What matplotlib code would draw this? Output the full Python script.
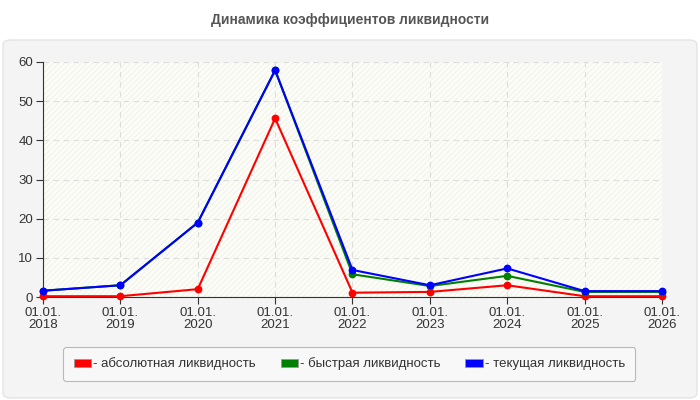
import matplotlib.pyplot as plt
from matplotlib.patches import FancyBboxPatch, Patch, Rectangle

plt.rcParams['font.family'] = ['Liberation Sans', 'DejaVu Sans']

dates = ['01.01.\n2018', '01.01.\n2019', '01.01.\n2020', '01.01.\n2021', '01.01.\n2022',
         '01.01.\n2023', '01.01.\n2024', '01.01.\n2025', '01.01.\n2026']
absolute = [0.2, 0.2, 2.0, 45.6, 1.1, 1.3, 3.0, 0.2, 0.2]
quick = [1.6, 3.0, 19.0, 57.9, 5.8, 2.8, 5.4, 1.3, 1.3]
current = [1.6, 3.0, 19.0, 57.9, 6.9, 3.0, 7.3, 1.5, 1.5]

names = ['- абсолютная ликвидность', '- быстрая ликвидность', '- текущая ликвидность']
colors = ['#ff0000', '#008000', '#0000ff']

fig = plt.figure(figsize=(7, 4), dpi=100)
fig.patch.set_facecolor('white')

# outer grey panel
panel = FancyBboxPatch((3 / 700, 2 / 400), 694 / 700, 358 / 400,
                       boxstyle='round,pad=0,rounding_size=0.012',
                       transform=fig.transFigure, facecolor='#f4f4f4',
                       edgecolor='#e4e4e4', linewidth=1, zorder=-10)
fig.patches.append(panel)

fig.text(0.5, 1 - 20 / 400, 'Динамика коэффициентов ликвидности', ha='center', va='center',
         fontsize=10, fontweight='bold', color='#555555')

ax = fig.add_axes([43 / 700, 103 / 400, 619 / 700, 235 / 400])
ax.set_facecolor('#fdfdf7')
plt.rcParams['hatch.color'] = '#f0f0ea'
plt.rcParams['hatch.linewidth'] = 0.6
ax.add_patch(Rectangle((0, 0), 1, 1, transform=ax.transAxes, facecolor='none',
                       edgecolor='#f0f0ea', hatch='//////', linewidth=0, zorder=0))

x = list(range(len(dates)))
for vals, c, n in zip([absolute, quick, current], colors, names):
    ax.plot(x, vals, color=c, linewidth=1.5, marker='o', markersize=4.6, label=n, zorder=3,
            clip_on=False)

ax.set_xlim(0, len(dates) - 1)
ax.set_ylim(0, 60)
ax.set_yticks([0, 10, 20, 30, 40, 50, 60])
ax.set_xticks(x)
ax.set_xticklabels(dates)
ax.grid(True, color='#dddddd', linestyle=(0, (5, 4)), linewidth=0.8)
ax.set_axisbelow(True)
for s in ['top', 'right']:
    ax.spines[s].set_visible(False)
for s in ['left', 'bottom']:
    ax.spines[s].set_color('#333333')
ax.tick_params(colors='#333333', labelsize=9.5, length=5, width=0.8, pad=2)
for lab in ax.get_xticklabels():
    lab.set_linespacing(1.0)

handles = [Patch(facecolor=c, edgecolor='#999999', linewidth=0.6) for c in colors]
leg = fig.legend(handles, names, loc='center', bbox_to_anchor=(0.499, 1 - 364 / 400),
                 ncol=3, fontsize=9.5, frameon=True, fancybox=True, handlelength=1.3,
                 handleheight=0.55, handletextpad=0.15, columnspacing=1.9,
                 borderpad=0.8, labelcolor='#333333')
leg.get_frame().set_edgecolor('#aaaaaa')
leg.get_frame().set_facecolor('#fafafa')
leg.get_frame().set_linewidth(0.8)

fig.savefig('out.png', dpi=100)
